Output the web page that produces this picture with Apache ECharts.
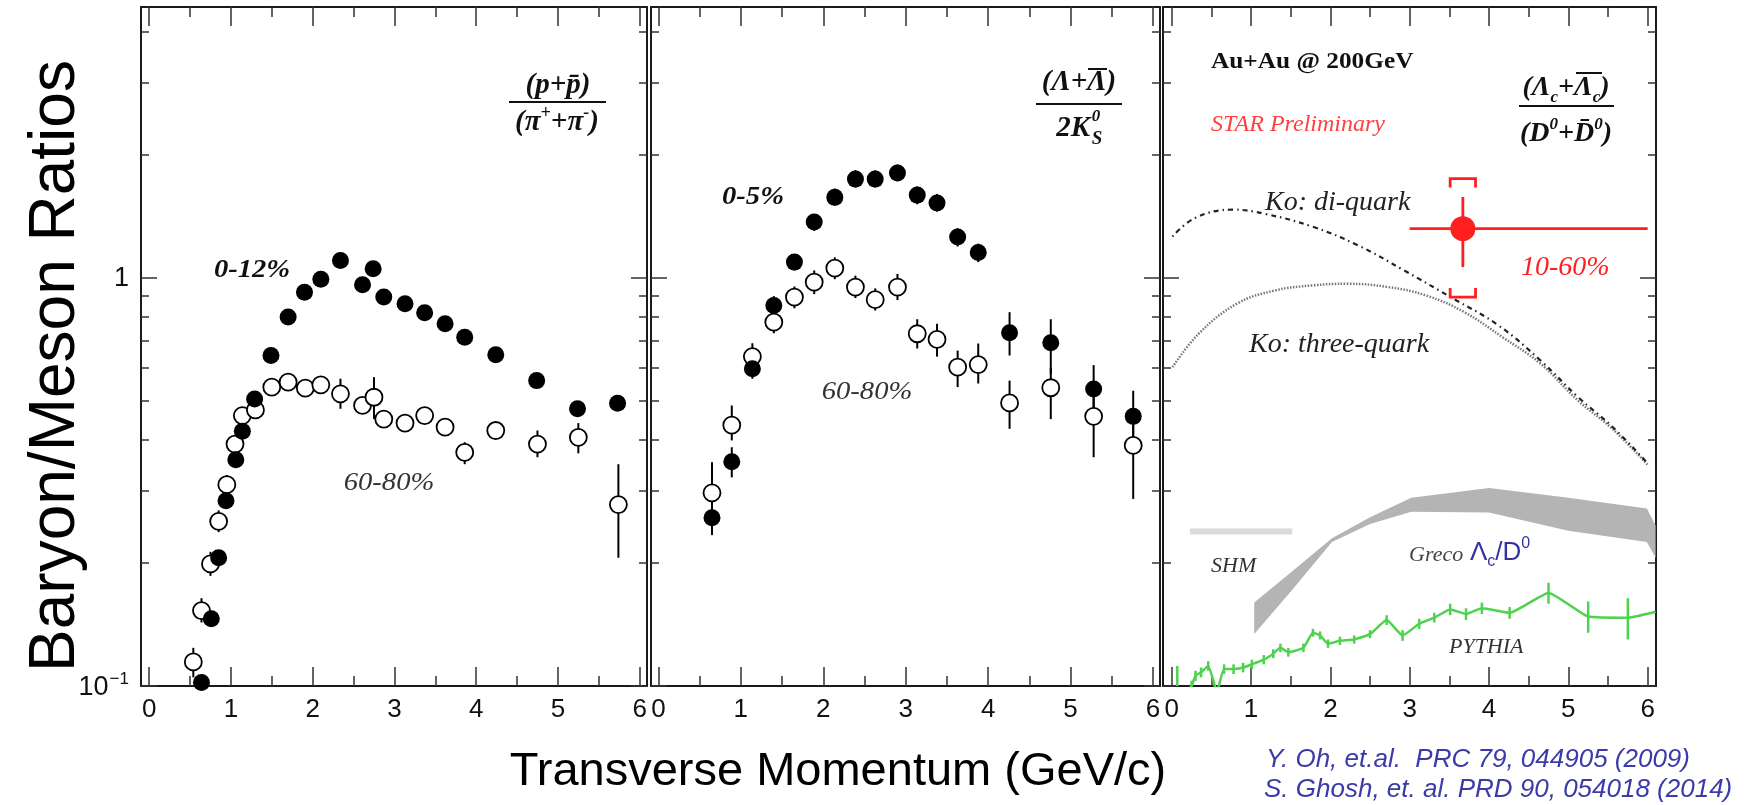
<!DOCTYPE html>
<html>
<head>
<meta charset="utf-8">
<script src="https://cdn.jsdelivr.net/npm/echarts@6/dist/echarts.min.js"></script>
<style>
html, body { margin: 0; background: #fff; }
#chart { width: 1756px; height: 805px; }
</style>
</head>
<body>
<div id="chart"></div>
<script>
// ---- axis ticks / labels ----
var xTicksMajor = [0, 1, 2, 3, 4, 5, 6];
var xTicksMinor = [0.5, 1.5, 2.5, 3.5, 4.5, 5.5];
var xLabels = [0, 1, 2, 3, 4, 5, 6];
var yTicksMajor = [0.1, 1];
var yTicksMinor = [0.2, 0.3, 0.4, 0.5, 0.6, 0.7, 0.8, 0.9, 2, 3, 4];
var yLabels = [0.1, 1];
var yMin = 0.1, yMax = 4.59;

// ---- panel 1: (p+pbar)/(pi+ + pi-) ----
var ppiCentralPt  = [0.64, 0.76, 0.85, 0.94, 1.06, 1.14, 1.29, 1.49, 1.70, 1.90, 2.10, 2.34, 2.61, 2.74, 2.87, 3.13, 3.37, 3.62, 3.86, 4.24, 4.74, 5.24, 5.73];
var ppiCentral    = [0.102, 0.146, 0.206, 0.284, 0.358, 0.420, 0.504, 0.644, 0.80, 0.92, 0.99, 1.10, 0.96, 1.05, 0.895, 0.862, 0.819, 0.770, 0.714, 0.647, 0.559, 0.477, 0.492];

var ppiPeriphPt   = [0.54, 0.64, 0.75, 0.85, 0.95, 1.05, 1.14, 1.30, 1.50, 1.70, 1.91, 2.10, 2.34, 2.61, 2.75, 2.87, 3.13, 3.37, 3.62, 3.86, 4.24, 4.75, 5.25, 5.74];
var ppiPeriph     = [0.1145, 0.153, 0.199, 0.253, 0.311, 0.391, 0.459, 0.474, 0.539, 0.554, 0.536, 0.546, 0.519, 0.486, 0.509, 0.450, 0.440, 0.459, 0.430, 0.373, 0.422, 0.391, 0.406, 0.278];
var ppiPeriphLo   = [0.105, 0.143, 0.186, 0.238, 0.295, 0.375, 0.445, 0.46, 0.525, 0.54, 0.515, 0.525, 0.477, 0.47, 0.45, 0.437, 0.427, 0.446, 0.417, 0.349, 0.41, 0.363, 0.371, 0.206];
var ppiPeriphHi   = [0.124, 0.164, 0.213, 0.269, 0.328, 0.408, 0.474, 0.49, 0.553, 0.568, 0.558, 0.567, 0.565, 0.503, 0.57, 0.464, 0.453, 0.472, 0.443, 0.395, 0.435, 0.422, 0.44, 0.349];

// ---- panel 2: (Lambda+Lambdabar)/2K0s ----
var lkPt          = [0.65, 0.89, 1.14, 1.40, 1.65, 1.89, 2.14, 2.39, 2.63, 2.90, 3.14, 3.38, 3.63, 3.88, 4.26, 4.76, 5.28, 5.76];
var lkCentral     = [0.258, 0.354, 0.598, 0.854, 1.09, 1.366, 1.57, 1.74, 1.74, 1.80, 1.59, 1.52, 1.255, 1.15, 0.732, 0.692, 0.533, 0.457];
var lkCentralLo   = [0.234, 0.324, 0.565, 0.81, 1.04, 1.30, 1.50, 1.66, 1.66, 1.72, 1.51, 1.45, 1.19, 1.09, 0.644, 0.58, 0.46, 0.40];
var lkCentralHi   = [0.28, 0.384, 0.63, 0.90, 1.14, 1.43, 1.65, 1.83, 1.83, 1.89, 1.67, 1.60, 1.32, 1.21, 0.822, 0.79, 0.61, 0.528];
var lkPeriph      = [0.297, 0.435, 0.640, 0.777, 0.895, 0.974, 1.054, 0.947, 0.882, 0.947, 0.728, 0.705, 0.603, 0.612, 0.493, 0.537, 0.457, 0.388];
var lkPeriphLo    = [0.27, 0.399, 0.60, 0.73, 0.84, 0.91, 0.99, 0.89, 0.83, 0.88, 0.67, 0.64, 0.539, 0.550, 0.426, 0.45, 0.363, 0.287];
var lkPeriphHi    = [0.353, 0.486, 0.69, 0.83, 0.95, 1.04, 1.12, 1.01, 0.94, 1.02, 0.79, 0.77, 0.662, 0.689, 0.559, 0.60, 0.53, 0.45];

// ---- panel 3: (Lc+Lcbar)/(D0+D0bar) ----
var lcPt = 3.67, lcVal = 1.316;
var lcPtLo = 3.0, lcPtHi = 6.0;
var lcStatLo = 1.06, lcStatHi = 1.573;
var lcSysLo = 0.895, lcSysHi = 1.745;

var koDiPt     = [0.01, 0.3, 0.77, 1.18, 1.78, 2.35, 2.93, 3.55, 4.12, 4.65, 5.12, 5.56, 6.01];
var koDi       = [1.26, 1.40, 1.465, 1.43, 1.33, 1.198, 1.04, 0.887, 0.763, 0.626, 0.51, 0.430, 0.349];
var koThreePt  = [0.01, 0.34, 0.82, 1.30, 1.78, 2.21, 2.73, 3.21, 3.69, 4.17, 4.65, 5.12, 5.56, 6.01];
var koThree    = [0.603, 0.728, 0.862, 0.929, 0.956, 0.965, 0.947, 0.903, 0.822, 0.714, 0.615, 0.50, 0.425, 0.346];

var grecoPt    = [1.04, 1.52, 2.02, 2.50, 3.02, 4.0, 5.0, 5.99, 6.1];
var grecoHi    = [0.160, 0.191, 0.230, 0.259, 0.289, 0.305, 0.289, 0.272, 0.247];
var grecoLo    = [0.134, 0.172, 0.225, 0.249, 0.267, 0.266, 0.240, 0.225, 0.206];

var shmPt      = [0.23, 1.52];
var shm        = [0.239, 0.239];

var pythiaPt   = [0.07, 0.25, 0.30, 0.37, 0.46, 0.57, 0.66, 0.78, 0.90, 1.01, 1.16, 1.28, 1.37, 1.47, 1.66, 1.78, 1.87, 1.97, 2.12, 2.30, 2.50, 2.71, 2.91, 3.12, 3.31, 3.51, 3.71, 3.91, 4.26, 4.75, 5.25, 5.75, 6.1];
var pythia     = [0.09, 0.1, 0.106, 0.108, 0.112, 0.097, 0.110, 0.110, 0.111, 0.113, 0.116, 0.120, 0.124, 0.121, 0.124, 0.135, 0.133, 0.127, 0.129, 0.130, 0.134, 0.145, 0.133, 0.142, 0.147, 0.154, 0.150, 0.155, 0.151, 0.169, 0.148, 0.147, 0.152];
var pythiaErr  = [0.022, 0.003, 0.003, 0.003, 0.003, 0.003, 0.003, 0.003, 0.003, 0.003, 0.003, 0.003, 0.003, 0.003, 0.003, 0.003, 0.003, 0.003, 0.003, 0.003, 0.003, 0.004, 0.004, 0.004, 0.004, 0.005, 0.005, 0.005, 0.005, 0.010, 0.013, 0.017, 0];

var SERIF = '"Liberation Serif", "Times New Roman", serif';
var SANS = '"Liberation Sans", Arial, Helvetica, sans-serif';
var FRAME = '#1a1a1a';
var RED = '#ff1f1f';
var GREEN = '#4fd24f';

var myChart = echarts.init(document.getElementById('chart'));

function zip2(a, b) { return a.map(function (v, i) { return [v, b[i]]; }); }
function zip3(a, b, c) { return a.map(function (v, i) { return [v, b[i], c[i]]; }); }

// panels: left, width, x-range
var panels = [
    { left: 141, width: 506, min: -0.10, max: 6.09 },
    { left: 651, width: 509, min: -0.09, max: 6.085 },
    { left: 1163, width: 493, min: -0.11, max: 6.105 }
];

var grids = [], xAxes = [], yAxes = [];
var log10 = function (v) { return Math.log10(v); };

panels.forEach(function (p, g) {
    grids.push({ left: p.left, top: 7, width: p.width, height: 679, outerBoundsMode: 'none' });

    function xa(pos, line, ticks, len, labels) {
        return {
            gridIndex: g, type: 'value', min: p.min, max: p.max, position: pos,
            splitLine: { show: false },
            axisLine: { show: line, onZero: false, lineStyle: { color: FRAME, width: 2 } },
            axisTick: { show: true, inside: true, length: len, customValues: ticks, lineStyle: { color: '#333', width: 1.5 } },
            axisLabel: labels ? { show: true, customValues: labels, margin: 11, fontSize: 26, color: '#111', fontFamily: SANS } : { show: false }
        };
    }
    xAxes.push(xa('bottom', true, xTicksMinor, 10, xLabels));
    xAxes.push(xa('bottom', false, xTicksMajor, 19));
    xAxes.push(xa('top', true, xTicksMinor, 10));
    xAxes.push(xa('top', false, xTicksMajor, 19));

    // data axis (log), hidden; frame and ticks drawn on linear overlays in log10 space
    yAxes.push({ gridIndex: g, type: 'log', logBase: 10, min: yMin, max: yMax, show: false });
    function ya(pos, line, ticks, len, labels) {
        return {
            gridIndex: g, type: 'value', min: log10(yMin), max: log10(yMax), position: pos,
            splitLine: { show: false },
            axisLine: { show: line, onZero: false, lineStyle: { color: FRAME, width: 2 } },
            axisTick: { show: true, inside: true, length: len, customValues: ticks.map(log10), lineStyle: { color: '#333', width: 1.5 } },
            axisLabel: labels ? {
                show: true, customValues: labels.map(log10), margin: 12,
                formatter: function (v) { return v < -0.5 ? '{b|10}{s|\u22121}' : '{b|1}'; },
                rich: {
                    b: { fontSize: 27, fontFamily: SANS, color: '#111', lineHeight: 30, verticalAlign: 'bottom' },
                    s: { fontSize: 17, fontFamily: SANS, color: '#111', lineHeight: 17, verticalAlign: 'top', padding: [0, 0, 0, 1] }
                }
            } : { show: false }
        };
    }
    yAxes.push(ya('left', true, yTicksMinor, 8, g === 0 ? yLabels : null));
    yAxes.push(ya('left', false, yTicksMajor, 16));
    yAxes.push(ya('right', true, yTicksMinor, 8));
    yAxes.push(ya('right', false, yTicksMajor, 16));
});

function clampY(cs, v) { return Math.max(cs.y, Math.min(cs.y + cs.height, v)); }

function errBars(g, data, color, width) {
    return {
        type: 'custom', xAxisIndex: 4 * g, yAxisIndex: 5 * g, data: data, silent: true, z: 3,
        encode: { x: 0, y: [1, 2] },
        renderItem: function (params, api) {
            var cs = params.coordSys;
            var a = api.coord([api.value(0), api.value(1)]);
            var b = api.coord([api.value(0), api.value(2)]);
            return { type: 'line', shape: { x1: a[0], y1: clampY(cs, a[1]), x2: b[0], y2: clampY(cs, b[1]) }, style: { stroke: color, lineWidth: width } };
        }
    };
}
function dots(g, data, filled, z) {
    return {
        type: 'scatter', xAxisIndex: 4 * g, yAxisIndex: 5 * g, data: data, symbol: 'circle', symbolSize: 17, z: z, silent: true,
        itemStyle: filled ? { color: '#000', opacity: 1 } : { color: '#fff', borderColor: '#000', borderWidth: 1.8, opacity: 1 }
    };
}

var series = [];
// panel 1
series.push(errBars(0, zip3(ppiPeriphPt, ppiPeriphLo, ppiPeriphHi), '#000', 2));
series.push(dots(0, zip2(ppiPeriphPt, ppiPeriph), false, 4));
series.push(dots(0, zip2(ppiCentralPt, ppiCentral), true, 5));
// panel 2
series.push(errBars(1, zip3(lkPt, lkPeriphLo, lkPeriphHi), '#000', 2));
series.push(dots(1, zip2(lkPt, lkPeriph), false, 4));
series.push(errBars(1, zip3(lkPt, lkCentralLo, lkCentralHi), '#000', 2));
series.push(dots(1, zip2(lkPt, lkCentral), true, 5));
// panel 3
series.push({
    type: 'custom', xAxisIndex: 8, yAxisIndex: 10, data: [[grecoPt[0], grecoLo[0]]], silent: true, z: 2,
    renderItem: function (params, api) {
        var pts = [], i;
        for (i = 0; i < grecoPt.length; i++) pts.push(api.coord([grecoPt[i], grecoHi[i]]));
        for (i = grecoPt.length - 1; i >= 0; i--) pts.push(api.coord([grecoPt[i], grecoLo[i]]));
        return { type: 'polygon', shape: { points: pts }, style: { fill: '#b4b4b4' } };
    }
});
series.push({
    type: 'line', xAxisIndex: 8, yAxisIndex: 10, data: zip2(shmPt, shm), showSymbol: false, silent: true,
    lineStyle: { color: '#dadada', width: 6 }
});
series.push({
    type: 'line', xAxisIndex: 8, yAxisIndex: 10, data: zip2(koThreePt, koThree), showSymbol: false, smooth: 0.4, silent: true,
    lineStyle: { color: '#777', width: 2.5, type: [1.5, 1.5] }
});
series.push({
    type: 'line', xAxisIndex: 8, yAxisIndex: 10, data: zip2(koDiPt, koDi), showSymbol: false, smooth: 0.4, silent: true,
    lineStyle: { color: '#222', width: 2.2, type: [1.5, 4, 5, 4] }
});
series.push({
    type: 'line', xAxisIndex: 8, yAxisIndex: 10, data: zip2(pythiaPt, pythia), showSymbol: false, smooth: 0.15, silent: true, clip: true,
    lineStyle: { color: GREEN, width: 2.5 }
});
series.push(errBars(2, pythiaPt.map(function (v, i) { return [v, pythia[i] - pythiaErr[i], pythia[i] + pythiaErr[i]]; }), GREEN, 2.5));
series.push({
    type: 'custom', xAxisIndex: 8, yAxisIndex: 10, silent: true, z: 6,
    data: [[lcPt, lcVal, lcPtLo, lcPtHi, lcStatLo, lcStatHi, lcSysLo, lcSysHi]],
    renderItem: function (params, api) {
        var x = api.value(0), y = api.value(1);
        var h1 = api.coord([api.value(2), y]), h2 = api.coord([api.value(3), y]);
        var v1 = api.coord([x, api.value(4)]), v2 = api.coord([x, api.value(5)]);
        var sLo = api.coord([x, api.value(6)]), sHi = api.coord([x, api.value(7)]);
        var bw = api.coord([x + 0.16, y])[0] - api.coord([x, y])[0];
        var st = { stroke: RED, lineWidth: 2.8, fill: null };
        return {
            type: 'group', children: [
                { type: 'line', shape: { x1: h1[0], y1: h1[1], x2: h2[0], y2: h2[1] }, style: st },
                { type: 'line', shape: { x1: v1[0], y1: v1[1], x2: v2[0], y2: v2[1] }, style: st },
                { type: 'polyline', shape: { points: [[sHi[0] - bw, sHi[1] + 9], [sHi[0] - bw, sHi[1]], [sHi[0] + bw, sHi[1]], [sHi[0] + bw, sHi[1] + 9]] }, style: st },
                { type: 'polyline', shape: { points: [[sLo[0] - bw, sLo[1] - 9], [sLo[0] - bw, sLo[1]], [sLo[0] + bw, sLo[1]], [sLo[0] + bw, sLo[1] - 9]] }, style: st }
            ]
        };
    }
});
series.push({
    type: 'scatter', xAxisIndex: 8, yAxisIndex: 10, data: [[lcPt, lcVal]], symbol: 'circle', symbolSize: 25, z: 7, silent: true,
    itemStyle: { color: RED, opacity: 1 }
});

// ---- texts ----
function richSet(size, weight, style, family, color) {
    var sm = Math.round(size * 0.62);
    function s(fs, lh, va) {
        return { fontSize: fs, fontWeight: weight, fontStyle: style, fontFamily: family, fill: color, color: color, lineHeight: lh, verticalAlign: va };
    }
    return { n: s(size, size + 8, 'middle'), u: s(sm, sm + 2, 'top'), d: s(sm, sm + 2, 'bottom') };
}
function txt(x, y, text, size, o) {
    o = o || {};
    var family = o.family || SERIF, weight = o.weight || 'normal', style = o.style || 'normal', color = o.color || '#111';
    var el = {
        type: 'text', x: x, y: y, silent: true, z: 10,
        style: {
            text: text, fontSize: size, fontFamily: family, fontWeight: weight, fontStyle: style,
            fill: color, textFill: color,
            align: o.align || 'center', textAlign: o.align || 'center',
            verticalAlign: 'middle', textVerticalAlign: 'middle'
        }
    };
    if (o.rich) el.style.rich = richSet(size, weight, style, family, color);
    if (o.rotation) el.rotation = o.rotation;
    if (o.scaleX) el.scaleX = o.scaleX;
    return el;
}
function rule(x1, x2, y, w) {
    return { type: 'line', silent: true, z: 10, shape: { x1: x1, y1: y, x2: x2, y2: y }, style: { stroke: '#111', lineWidth: w || 2 } };
}
var bir = { weight: 'bold', style: 'italic', rich: true };

var graphics = [
    txt(56, 366, 'Baryon/Meson Ratios', 64, { family: SANS, color: '#000', rotation: Math.PI / 2 }),
    txt(838, 772, 'Transverse Momentum (GeV/c)', 47, { family: SANS, color: '#000' }),

    // panel 1
    txt(558, 86, '{n|(p+p\u0304)}', 29, bir),
    rule(509, 606, 102),
    txt(557, 123, '{n|(\u03c0}{u|+}{n|+\u03c0}{u|-}{n|)}', 29, bir),
    txt(252, 270, '0-12%', 26, { weight: 'bold', style: 'italic', scaleX: 1.1 }),
    txt(389, 483, '60-80%', 26, { style: 'italic', color: '#333', scaleX: 1.1 }),

    // panel 2
    txt(1079, 83, '{n|(\u039b+\u039b)}', 29, bir),
    rule(1088, 1107, 69, 2),
    rule(1036, 1122, 104),
    txt(1090, 129, '2K', 29, { weight: 'bold', style: 'italic', align: 'right' }),
    txt(1096, 117, '0', 17, { weight: 'bold', style: 'italic' }),
    txt(1097, 139, 'S', 19, { weight: 'bold', style: 'italic' }),
    txt(753, 197, '0-5%', 26, { weight: 'bold', style: 'italic', scaleX: 1.1 }),
    txt(867, 392, '60-80%', 26, { style: 'italic', color: '#333', scaleX: 1.1 }),

    // panel 3
    txt(1211, 62, 'Au+Au @ 200GeV', 23, { weight: 'bold', align: 'left', scaleX: 1.1 }),
    txt(1211, 125, 'STAR Preliminary', 24, { style: 'italic', align: 'left', color: '#ff4040' }),
    txt(1566, 88, '{n|(\u039b}{d|c}{n|+\u039b}{d|c}{n|)}', 28, bir),
    rule(1576, 1602, 73, 2),
    rule(1519, 1614, 106),
    txt(1566, 134, '{n|(D}{u|0}{n|+D\u0304}{u|0}{n|)}', 28, bir),
    txt(1265, 203, 'Ko: di-quark', 28, { style: 'italic', align: 'left', color: '#222' }),
    txt(1521, 268, '10-60%', 28, { style: 'italic', align: 'left', color: RED }),
    txt(1249, 345, 'Ko: three-quark', 28, { style: 'italic', align: 'left', color: '#222' }),
    txt(1211, 566, 'SHM', 22, { style: 'italic', align: 'left', color: '#333' }),
    txt(1409, 555, 'Greco', 22, { style: 'italic', align: 'left', color: '#444' }),
    txt(1470, 553, '{n|\u039b}{d|c}{n|/D}{u|0}', 26, { family: SANS, align: 'left', color: '#33339e', rich: true }),
    txt(1449, 647, 'PYTHIA', 22, { style: 'italic', align: 'left', color: '#333' }),

    // references
    txt(1266, 760, 'Y. Oh, et.al.  PRC 79, 044905 (2009)', 26, { family: SANS, style: 'italic', align: 'left', color: '#3a3aa8' }),
    txt(1264, 790, 'S. Ghosh, et. al. PRD 90, 054018 (2014)', 26, { family: SANS, style: 'italic', align: 'left', color: '#3a3aa8' })
];

var option = {
    animation: false,
    backgroundColor: '#fff',
    grid: grids,
    xAxis: xAxes,
    yAxis: yAxes,
    series: series,
    graphic: graphics
};
myChart.setOption(option);
</script>
</body>
</html>
